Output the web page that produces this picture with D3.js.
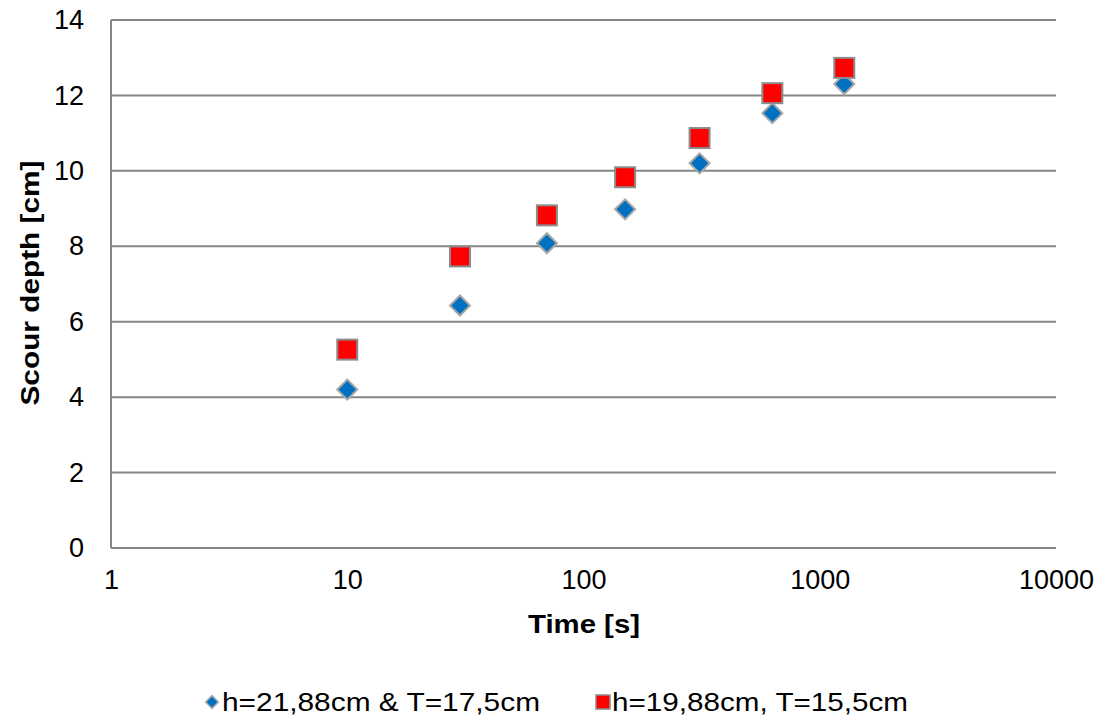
<!DOCTYPE html>
<meta charset="utf-8">
<head>
<style>
  body { margin: 0; background: #fff; }
  text { font-family: "Liberation Sans", Arial, sans-serif; fill: #000; }
  .axis path, .axis line { display: none; }
  .grid line { stroke: #868686; stroke-width: 2; }
</style>
</head>
<body>
<script src="https://cdnjs.cloudflare.com/ajax/libs/d3/7.8.5/d3.min.js"></script>
<script>
// data
const times = [10, 30, 70, 150, 310, 630, 1270];
const depthA = [4.2, 6.43, 8.08, 8.98, 10.2, 11.53, 12.3];
const depthB = [5.26, 7.73, 8.82, 9.83, 10.87, 12.06, 12.73];
const seriesNames = ["h=21,88cm & T=17,5cm", "h=19,88cm, T=15,5cm"];
const xTicks = [1, 10, 100, 1000, 10000];
const yTicks = [0, 2, 4, 6, 8, 10, 12, 14];

const W = 1099, H = 719;
const margin = {top: 20, right: 43, bottom: 171, left: 111};
const width = W - margin.left - margin.right,
      height = H - margin.top - margin.bottom;

const svg = d3.select("body").append("svg")
  .attr("width", W).attr("height", H);
const g = svg.append("g")
  .attr("transform", "translate(" + margin.left + "," + margin.top + ")");

const x = d3.scaleLog().domain([1, 10000]).range([0, width]);
const y = d3.scaleLinear().domain([0, 14]).range([height, 0]);

// horizontal gridlines
g.append("g").attr("class", "grid")
  .selectAll("line").data(yTicks).join("line")
    .attr("x1", 0).attr("x2", width)
    .attr("y1", d => y(d)).attr("y2", d => y(d));

// left axis line
g.append("line")
  .attr("x1", 0).attr("x2", 0).attr("y1", 0).attr("y2", height)
  .attr("stroke", "#868686").attr("stroke-width", 2);

const yAxis = g.append("g").attr("class", "axis")
  .call(d3.axisLeft(y).tickValues(yTicks).tickFormat(d3.format("d")).tickSize(0).tickPadding(27));
yAxis.selectAll("text").style("font-size", "27px");

const xAxis = g.append("g").attr("class", "axis")
  .attr("transform", "translate(0," + height + ")")
  .call(d3.axisBottom(x).tickValues(xTicks).tickFormat(d3.format("d")).tickSize(0).tickPadding(22));
xAxis.selectAll("text").style("font-size", "27px");

// axis titles
svg.append("text")
  .attr("x", 584).attr("y", 633)
  .attr("text-anchor", "middle")
  .attr("textLength", 112).attr("lengthAdjust", "spacingAndGlyphs")
  .style("font-size", "26px").style("font-weight", "bold")
  .text("Time [s]");

svg.append("text")
  .attr("transform", "translate(39,283) rotate(-90)")
  .attr("text-anchor", "middle")
  .attr("textLength", 245).attr("lengthAdjust", "spacingAndGlyphs")
  .style("font-size", "26px").style("font-weight", "bold")
  .text("Scour depth [cm]");

const diamond = d3.symbol().type(d3.symbolSquare).size(200);

// series A: blue diamonds
g.append("g").selectAll("path")
  .data(times.map((t, i) => [t, depthA[i]]))
  .join("path")
    .attr("d", diamond)
    .attr("transform", d => "translate(" + x(d[0]) + "," + y(d[1]) + ") rotate(45)")
    .attr("fill", "#0070c0")
    .attr("stroke", "#a6a6a6").attr("stroke-width", 2);

// series B: red squares
g.append("g").selectAll("rect")
  .data(times.map((t, i) => [t, depthB[i]]))
  .join("rect")
    .attr("x", d => x(d[0]) - 10).attr("y", d => y(d[1]) - 10)
    .attr("width", 20).attr("height", 20)
    .attr("fill", "#ff0000")
    .attr("stroke", "#8c8c8c").attr("stroke-width", 2);

// legend
const legend = svg.append("g");
legend.append("path")
  .attr("d", d3.symbol().type(d3.symbolSquare).size(80))
  .attr("transform", "translate(212,702) rotate(45)")
  .attr("fill", "#0070c0").attr("stroke", "#a6a6a6").attr("stroke-width", 1.5);
legend.append("text")
  .attr("x", 222).attr("y", 711)
  .attr("textLength", 318).attr("lengthAdjust", "spacingAndGlyphs")
  .style("font-size", "26px")
  .text(seriesNames[0]);
legend.append("rect")
  .attr("x", 596).attr("y", 695).attr("width", 14).attr("height", 14)
  .attr("fill", "#ff0000").attr("stroke", "#8c8c8c").attr("stroke-width", 1.5);
legend.append("text")
  .attr("x", 612).attr("y", 711)
  .attr("textLength", 296).attr("lengthAdjust", "spacingAndGlyphs")
  .style("font-size", "26px")
  .text(seriesNames[1]);
</script>
</body>
